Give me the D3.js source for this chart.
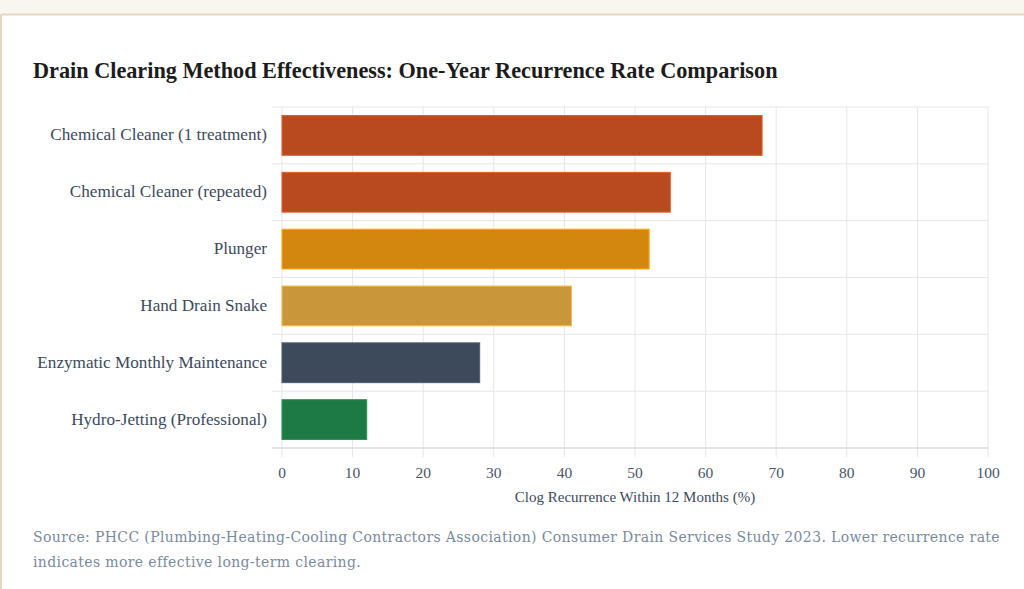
<!DOCTYPE html>
<html>
<head>
<meta charset="utf-8">
<script src="https://cdn.jsdelivr.net/npm/d3@7"></script>
<style>
  html, body { margin: 0; padding: 0; background: #f9f6f0; }
  svg { display: block; }
</style>
</head>
<body>
<svg id="chart"></svg>
<script>
// data
const methods = [
  "Chemical Cleaner (1 treatment)",
  "Chemical Cleaner (repeated)",
  "Plunger",
  "Hand Drain Snake",
  "Enzymatic Monthly Maintenance",
  "Hydro-Jetting (Professional)"
]
const recurrence = [68, 55, 52, 41, 28, 12]
const barColors = ["#b94a1f", "#b94a1f", "#d4870f", "#c9963a", "#3d4a5c", "#1e7a45"]
const xTicks = [0, 10, 20, 30, 40, 50, 60, 70, 80, 90, 100]

const title = "Drain Clearing Method Effectiveness: One-Year Recurrence Rate Comparison"
const xTitle = "Clog Recurrence Within 12 Months (%)"
const sourceLines = [
  "Source: PHCC (Plumbing-Heating-Cooling Contractors Association) Consumer Drain Services Study 2023. Lower recurrence rate",
  "indicates more effective long-term clearing."
]

const width = 1024
const height = 589
const margin = { top: 107, right: 36, bottom: 141, left: 282 }
const serif = "'Liberation Serif', 'Times New Roman', serif"

const svg = d3.select("#chart").attr("width", width).attr("height", height)

// card
svg.append("rect").attr("x", 0).attr("y", 0).attr("width", width).attr("height", height).attr("fill", "#f9f6f0")
svg.append("rect").attr("x", 1).attr("y", 14.5).attr("width", width - 1).attr("height", height - 14.5).attr("fill", "#ffffff")
svg.append("line").attr("x1", 1).attr("x2", width).attr("y1", 14.5).attr("y2", 14.5).attr("stroke", "#e2d7c2").attr("stroke-width", 2)
svg.append("line").attr("x1", 1).attr("x2", 1).attr("y1", 14.5).attr("y2", height).attr("stroke", "#e2d7c2").attr("stroke-width", 2)

// helper: resize a text so it spans a given width
const fitWidth = (sel, size, target) => {
  const w = sel.node().getComputedTextLength()
  sel.style("font-size", (size * target / w) + "px")
}

// title
const titleText = svg.append("text")
  .attr("x", 33).attr("y", 78)
  .style("font-family", serif)
  .style("font-weight", "bold")
  .style("font-size", "21px")
  .attr("fill", "#1c1c1c")
  .text(title)
fitWidth(titleText, 21, 745)

// scaling (absolute page coords)
const x0 = margin.left
const x1 = width - margin.right
const y0 = margin.top
const y1 = height - margin.bottom
const xScale = d3.scaleLinear().domain([0, 100]).range([x0, x1])
const yScale = d3.scaleBand().domain(methods).range([y0, y1]).paddingInner(0.3).paddingOuter(0.15)

// grid: vertical
svg.append("g")
  .selectAll("line")
  .data(xTicks)
  .enter()
  .append("line")
  .attr("x1", (d) => xScale(d))
  .attr("x2", (d) => xScale(d))
  .attr("y1", y0)
  .attr("y2", y1 + 9)
  .attr("stroke", "#e6e6e6")
  .attr("stroke-width", 1)

// grid: horizontal at band edges
const rowH = (y1 - y0) / methods.length
const edges = d3.range(methods.length + 1).map((i) => y0 + i * rowH)
svg.append("g")
  .selectAll("line")
  .data(edges)
  .enter()
  .append("line")
  .attr("x1", x0 - 10)
  .attr("x2", x1)
  .attr("y1", (d) => d)
  .attr("y2", (d) => d)
  .attr("stroke", (d, i) => (i === methods.length ? "#dcdcdc" : "#e6e6e6"))
  .attr("stroke-width", (d, i) => (i === methods.length ? 1.5 : 1))

// bars
svg.selectAll("rect.bar")
  .data(methods)
  .enter()
  .append("rect")
  .attr("class", "bar")
  .attr("x", xScale(0))
  .attr("y", (d) => yScale(d))
  .attr("width", (d, i) => xScale(recurrence[i]) - xScale(0))
  .attr("height", yScale.bandwidth())
  .attr("fill", (d, i) => barColors[i])
  .attr("stroke", (d, i) => d3.color(barColors[i]).brighter(0.6))
  .attr("stroke-width", 1)

// y labels
const ylabs = svg.selectAll("text.ylab")
  .data(methods)
  .enter()
  .append("text")
  .attr("class", "ylab")
  .attr("x", x0 - 15)
  .attr("y", (d) => yScale(d) + yScale.bandwidth() / 2 + 5)
  .attr("text-anchor", "end")
  .style("font-family", serif)
  .style("font-size", "15px")
  .attr("fill", "#3d4a5c")
  .text((d) => d)
const labScale = 217 / ylabs.nodes()[0].getComputedTextLength()
ylabs.style("font-size", (15 * labScale) + "px")

// x tick labels
svg.selectAll("text.xtick")
  .data(xTicks)
  .enter()
  .append("text")
  .attr("class", "xtick")
  .attr("x", (d) => xScale(d))
  .attr("y", y1 + 30)
  .attr("text-anchor", "middle")
  .style("font-family", serif)
  .style("font-size", "15.5px")
  .attr("fill", "#4a5568")
  .text((d) => d)

// x title
svg.append("text")
  .attr("x", (x0 + x1) / 2)
  .attr("y", y1 + 54)
  .attr("text-anchor", "middle")
  .style("font-family", serif)
  .style("font-size", "15px")
  .attr("fill", "#3d4a5c")
  .text(xTitle)

// source note
const src = svg.append("text")
  .style("font-family", "'DejaVu Serif', serif")
  .style("font-size", "14px")
  .style("letter-spacing", "0px")
  .attr("fill", "#7a8aa0")
src.selectAll("tspan")
  .data(sourceLines)
  .enter()
  .append("tspan")
  .attr("x", 33)
  .attr("y", (d, i) => 542 + i * 25)
  .text((d) => d)
const first = src.select("tspan").node().getComputedTextLength()
src.style("letter-spacing", Math.max(0, (967 - first) / sourceLines[0].length) + "px")
</script>
</body>
</html>
